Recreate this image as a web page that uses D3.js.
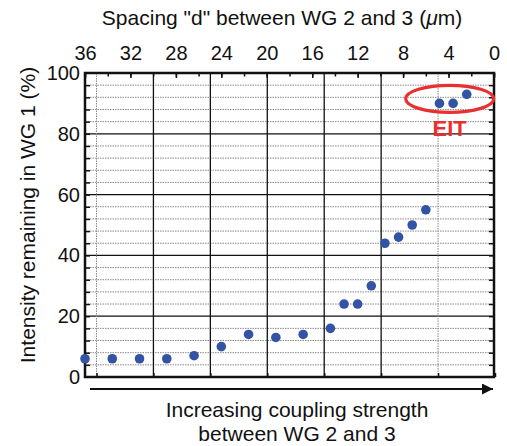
<!DOCTYPE html>
<html>
<head>
<meta charset="utf-8">
<script src="https://cdn.jsdelivr.net/npm/d3@7"></script>
<style>
  body { margin: 0; background: #fff; }
  text { font-family: "Liberation Sans", Arial, Helvetica, sans-serif; fill: #111; }
</style>
</head>
<body>
<div id="chart"></div>
<script>
var width = 507;
var height = 446;

// spacing d (um) and intensity left in WG 1 (%)
var spacing = [36, 33.6, 31.2, 28.8, 26.4, 24, 21.6, 19.2, 16.8, 14.4, 13.2, 12, 10.8, 9.6, 8.4, 7.2, 6, 4.8, 3.6, 2.4];
var intensity = [6, 6, 6, 6, 7, 10, 14, 13, 14, 16, 24, 24, 30, 44, 46, 50, 55, 90, 90, 93];
var topTicks = [36, 32, 28, 24, 20, 16, 12, 8, 4, 0];
var yTicks = [0, 20, 40, 60, 80, 100];
var bottomTicks = [0, 1, 2, 3, 4, 5, 6, 7]; // unlabelled coupling strength ticks
var eitPoint = [3.9, 91.5]; // centre of the EIT ellipse

// plot box (note: "top" is taken by window.top)
var pLeft = 85, pRight = 494, pTop = 73, pBottom = 377;

var svg = d3.select('#chart').append('svg')
    .attr('width', width)
    .attr('height', height);

var x = d3.scaleLinear().domain([36, 0]).range([pLeft, pRight]);
var y = d3.scaleLinear().domain([0, 100]).range([pBottom, pTop]);
var xb = d3.scaleLinear().domain([0, 7]).range([96.5, 495]);

// horizontal grid, every 4 %
var hg = d3.range(4, 100, 4);
svg.append('g').selectAll('line')
    .data(hg)
    .enter().append('line')
    .attr('x1', pLeft).attr('x2', pRight)
    .attr('y1', function(d){ return y(d); })
    .attr('y2', function(d){ return y(d); })
    .attr('stroke', function(d){ return d % 20 == 0 ? '#111' : '#8a8a8a'; })
    .attr('stroke-width', function(d){ return d % 20 == 0 ? 1.3 : 1; })
    .attr('stroke-dasharray', function(d){ return d % 20 == 0 ? null : '1.5,1'; });

// vertical grid from the bottom ticks
svg.append('g').selectAll('line')
    .data(bottomTicks.slice(0, 7))
    .enter().append('line')
    .attr('x1', function(d){ return xb(d); })
    .attr('x2', function(d){ return xb(d); })
    .attr('y1', pTop).attr('y2', pBottom)
    .attr('stroke', function(d){ return (d == 0 || d == 6) ? '#8a8a8a' : '#111'; })
    .attr('stroke-width', function(d){ return (d == 0 || d == 6) ? 1 : 1.3; })
    .attr('stroke-dasharray', function(d){ return (d == 0 || d == 6) ? '1.5,1' : null; });

// axes
function styleAxis(g) {
  g.select('.domain').remove();
  g.selectAll('.tick line').attr('stroke', '#111').attr('stroke-width', 1.5);
  g.selectAll('text').attr('font-size', 20).attr('fill', '#111');
}

// top: minor ticks every 2 um, labels every 4
svg.append('g')
    .attr('transform', 'translate(0,' + pTop + ')')
    .call(d3.axisTop(x).tickValues(d3.range(0, 37, 2)).tickSize(-3.5).tickFormat(''))
    .call(styleAxis);
svg.append('g')
    .attr('transform', 'translate(0,' + pTop + ')')
    .call(d3.axisTop(x).tickValues(topTicks).tickSize(-5).tickPadding(13).tickFormat(d3.format('d')))
    .call(styleAxis);

// left: ticks every 4, labels every 20
svg.append('g')
    .attr('transform', 'translate(' + pLeft + ',0)')
    .call(d3.axisLeft(y).tickValues(hg).tickSize(-5).tickFormat(''))
    .call(styleAxis);
svg.append('g')
    .attr('transform', 'translate(' + pLeft + ',0)')
    .call(d3.axisLeft(y).tickValues(yTicks).tickSize(0).tickPadding(5))
    .call(styleAxis);

// right ticks
svg.append('g')
    .attr('transform', 'translate(' + pRight + ',0)')
    .call(d3.axisRight(y).tickValues(hg).tickSize(-5).tickFormat(''))
    .call(styleAxis);

// bottom ticks
svg.append('g')
    .attr('transform', 'translate(0,' + pBottom + ')')
    .call(d3.axisBottom(xb).tickValues(bottomTicks).tickSize(-4).tickFormat(''))
    .call(styleAxis);

// frame
svg.append('rect')
    .attr('x', pLeft).attr('y', pTop)
    .attr('width', pRight - pLeft).attr('height', pBottom - pTop)
    .attr('fill', 'none')
    .attr('stroke', '#111')
    .attr('stroke-width', 2.5);

// points
svg.append('g').selectAll('circle')
    .data(spacing)
    .enter().append('circle')
    .attr('cx', function(d){ return x(d); })
    .attr('cy', function(d, i){ return y(intensity[i]); })
    .attr('r', 4.8)
    .attr('fill', '#3353a5');

// EIT ellipse and label
svg.append('ellipse')
    .attr('cx', x(eitPoint[0]))
    .attr('cy', y(eitPoint[1]))
    .attr('rx', 44)
    .attr('ry', 13.5)
    .attr('fill', 'none')
    .attr('stroke', '#e8302f')
    .attr('stroke-width', 3.2);
svg.append('text')
    .attr('x', x(eitPoint[0]))
    .attr('y', 136)
    .attr('text-anchor', 'middle')
    .attr('font-size', 22)
    .attr('font-weight', 'bold')
    .style('fill', '#e8302f')
    .text('EIT');

// titles
var topTitle = svg.append('text')
    .attr('x', 282)
    .attr('y', 25)
    .attr('text-anchor', 'middle')
    .attr('font-size', 21);
topTitle.append('tspan').text('Spacing "d" between WG 2 and 3 (');
topTitle.append('tspan').attr('font-style', 'italic').text('\u03bc');
topTitle.append('tspan').text('m)');

svg.append('text')
    .attr('transform', 'translate(35,215) rotate(-90)')
    .attr('text-anchor', 'middle')
    .attr('font-size', 21)
    .text('Intensity remaining in WG 1 (%)');

// arrow
svg.append('defs').append('marker')
    .attr('id', 'head')
    .attr('viewBox', '0 0 10 10')
    .attr('refX', 10).attr('refY', 5)
    .attr('markerWidth', 12).attr('markerHeight', 11)
    .attr('markerUnits', 'userSpaceOnUse')
    .attr('orient', 'auto')
  .append('path')
    .attr('d', 'M0,0L10,5L0,10Z')
    .attr('fill', '#111');
svg.append('line')
    .attr('x1', 90).attr('x2', 493)
    .attr('y1', 389).attr('y2', 389)
    .attr('stroke', '#111')
    .attr('stroke-width', 2)
    .attr('marker-end', 'url(#head)');

svg.append('text')
    .attr('x', 297)
    .attr('y', 417)
    .attr('text-anchor', 'middle')
    .attr('font-size', 21)
    .text('Increasing coupling strength');
svg.append('text')
    .attr('x', 297)
    .attr('y', 441)
    .attr('text-anchor', 'middle')
    .attr('font-size', 21)
    .text('between WG 2 and 3');
</script>
</body>
</html>
